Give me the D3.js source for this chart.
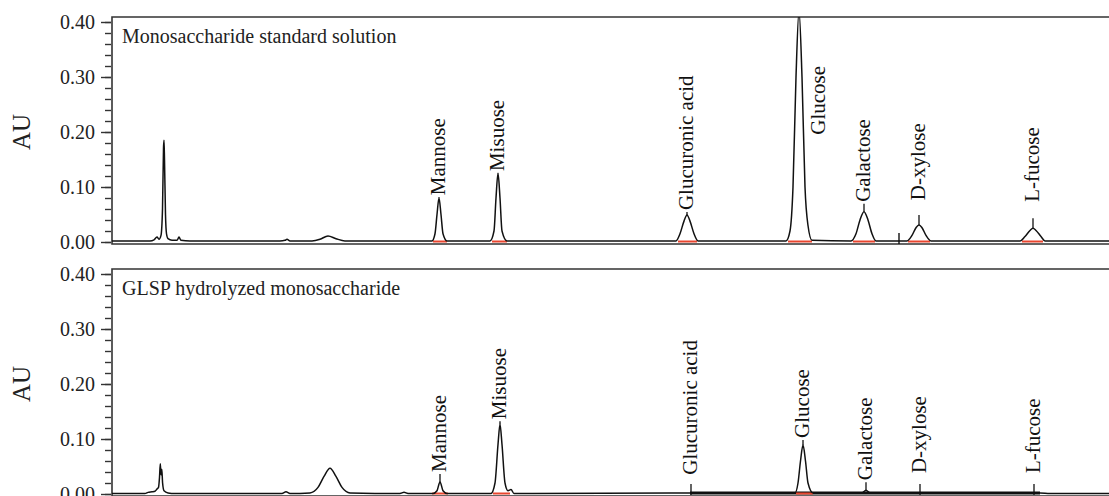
<!DOCTYPE html>
<html>
<head>
<meta charset="utf-8">
<script src="https://cdn.jsdelivr.net/npm/d3@7"></script>
<style>
  body { margin: 0; background: #fff; }
  svg { display: block; font-family: "Liberation Serif", "DejaVu Serif", serif; }
</style>
</head>
<body>
<svg id="chart" width="1109" height="496"></svg>
<script>
// chromatogram traces, [time (min), AU]
var standardTrace = [
  [0, 0.002], [1.9, 0.002], [2.1, 0.004], [2.25, 0.009], [2.35, 0.005], [2.45, 0.012],
  [2.525, 0.06], [2.575, 0.17], [2.6, 0.185], [2.625, 0.15], [2.675, 0.05], [2.725, 0.015],
  [2.8, 0.006], [3.0, 0.003], [3.25, 0.003], [3.35, 0.009], [3.45, 0.003], [3.9, 0.002],
  [8.4, 0.002], [8.65, 0.003], [8.75, 0.005], [8.9, 0.002],
  [10.0, 0.002], [10.4, 0.005], [10.8, 0.011], [11.2, 0.006], [11.65, 0.002],
  [16.0, 0.002], [16.15, 0.015], [16.25, 0.05], [16.35, 0.08], [16.45, 0.05], [16.55, 0.015], [16.75, 0.002],
  [18.9, 0.002], [19.1, 0.02], [19.2, 0.08], [19.3, 0.125], [19.4, 0.08], [19.5, 0.02], [19.75, 0.002],
  [28.2, 0.002], [28.4, 0.015], [28.6, 0.038], [28.75, 0.049], [28.9, 0.038], [29.1, 0.015], [29.3, 0.002],
  [33.7, 0.002], [33.9, 0.02], [34.05, 0.1], [34.2, 0.3], [34.35, 0.42], [34.5, 0.3], [34.65, 0.1], [34.8, 0.03], [35.0, 0.003],
  [36.95, 0.002], [37.2, 0.015], [37.4, 0.04], [37.6, 0.055], [37.8, 0.04], [38.0, 0.015], [38.2, 0.002],
  [39.75, 0.002], [40.0, 0.012], [40.2, 0.026], [40.35, 0.031], [40.5, 0.026], [40.7, 0.012], [40.95, 0.002],
  [45.4, 0.002], [45.65, 0.01], [45.9, 0.021], [46.05, 0.025], [46.2, 0.021], [46.45, 0.01], [46.65, 0.002],
  [50, 0.002]
];

var sampleTrace = [
  [0, 0.001], [1.65, 0.001], [1.8, 0.003], [2.0, 0.004], [2.15, 0.005], [2.25, 0.009],
  [2.325, 0.012], [2.375, 0.03], [2.415, 0.055], [2.45, 0.035], [2.49, 0.045], [2.53, 0.02],
  [2.6, 0.006], [2.8, 0.002], [3.15, 0.001],
  [8.5, 0.001], [8.7, 0.004], [8.9, 0.001],
  [9.9, 0.002], [10.3, 0.012], [10.6, 0.032], [10.9, 0.047], [11.2, 0.032], [11.5, 0.012], [11.9, 0.002],
  [14.4, 0.001], [14.6, 0.003], [14.8, 0.001],
  [16.05, 0.001], [16.25, 0.006], [16.4, 0.022], [16.55, 0.006], [16.75, 0.001],
  [18.95, 0.001], [19.15, 0.02], [19.3, 0.09], [19.4, 0.127], [19.5, 0.09], [19.65, 0.02],
  [19.8, 0.006], [19.95, 0.008], [20.1, 0.001],
  [28.9, 0.002],
  [34.15, 0.002], [34.3, 0.02], [34.425, 0.06], [34.55, 0.089], [34.675, 0.06], [34.8, 0.02], [35.05, 0.002],
  [37.5, 0.002], [37.7, 0.007], [37.9, 0.002],
  [46.4, 0.002], [46.9, 0.001], [50, 0.001]
];

// noisy stretch of the sample baseline [start, end]
var sampleNoise = [28.9, 46.4];

// peak labels: name, peak time, peak AU, label start AU, label time
var standardPeaks = [
  ["Mannose", 16.35, 0.08, 0.085, 16.35],
  ["Misuose", 19.3, 0.125, 0.129, 19.3],
  ["Glucuronic acid", 28.75, 0.049, 0.058, 28.75],
  ["Glucose", 34.35, 0.42, 0.195, 35.35],
  ["Galactose", 37.6, 0.055, 0.073, 37.6],
  ["D-xylose", 40.35, 0.031, 0.076, 40.35],
  ["L-fucose", 46.05, 0.025, 0.073, 46.05]
];
var samplePeaks = [
  ["Mannose", 16.4, 0.022, 0.040, 16.4],
  ["Misuose", 19.4, 0.127, 0.136, 19.4],
  ["Glucuronic acid", 28.95, 0, 0.035, 28.95],
  ["Glucose", 34.55, 0.089, 0.102, 34.55],
  ["Galactose", 37.7, 0.007, 0.025, 37.7],
  ["D-xylose", 40.4, 0, 0.038, 40.4],
  ["L-fucose", 46.1, 0, 0.038, 46.1]
];

// integration baselines (red) [start, end]
var standardBases = [[16.05, 16.75], [19.0, 19.75], [28.3, 29.25], [33.8, 35.0], [37.05, 38.15], [39.8, 40.9], [45.5, 46.55]];
var sampleBases = [[16.0, 16.8], [19.05, 19.9], [34.2, 35.05]];

// event marks without label
var standardMarks = [39.35];
var sampleMarks = [];

var yTicks = [0, 0.1, 0.2, 0.3, 0.4];
var yMinor = d3.range(0, 0.401, 0.02);

var panels = [
  {title: "Monosaccharide standard solution", trace: standardTrace, peaks: standardPeaks,
   bases: standardBases, marks: standardMarks, noise: null, y0: 242},
  {title: "GLSP hydrolyzed monosaccharide", trace: sampleTrace, peaks: samplePeaks,
   bases: sampleBases, marks: sampleMarks, noise: sampleNoise, y0: 494}
];

var svg = d3.select("#chart");
var left = 112, right = 1112;
var x = d3.scaleLinear().domain([0, 50]).range([left, right]);

panels.forEach(function(p, i) {
  var y = d3.scaleLinear().domain([0, 0.4]).range([p.y0, p.y0 - 220]);
  var g = svg.append("g");
  var top = y(0.4) - 5, bottom = y(0) + 2;

  g.append("clipPath").attr("id", "clip" + i)
    .append("rect").attr("x", left).attr("y", top).attr("width", right - left).attr("height", bottom - top);

  // frame
  g.append("path")
    .attr("d", "M" + 1109 + "," + top + "H" + left + "V" + bottom + "H" + 1109)
    .attr("fill", "none").attr("stroke", "#333").attr("stroke-width", 1.6);

  // minor and major ticks
  g.append("g").attr("transform", "translate(" + (left - 1) + ",0)")
    .call(d3.axisLeft(y).tickValues(yMinor).tickSize(6).tickFormat(""))
    .call(function(a) { a.select(".domain").remove(); a.selectAll("line").attr("stroke", "#333").attr("stroke-width", 1.4); });
  g.append("g").attr("transform", "translate(" + (left - 1) + ",0)")
    .call(d3.axisLeft(y).tickValues(yTicks).tickSize(10).tickPadding(6).tickFormat(d3.format(".2f")))
    .call(function(a) {
      a.select(".domain").remove();
      a.selectAll("line").attr("stroke", "#333").attr("stroke-width", 1.4);
      a.selectAll("text").attr("font-size", 20).attr("font-family", "Liberation Serif, serif").attr("fill", "#222");
    });

  g.append("text")
    .attr("transform", "translate(30," + y(0.2) + ") rotate(-90)")
    .attr("text-anchor", "middle").attr("font-size", 25).attr("fill", "#222").text("AU");

  g.append("text").attr("x", 122).attr("y", y(0.4) + 21)
    .attr("font-size", 20).attr("fill", "#222").text(p.title);

  var plot = g.append("g").attr("clip-path", "url(#clip" + i + ")");

  if (p.noise) {
    plot.append("line")
      .attr("x1", x(p.noise[0])).attr("x2", x(p.noise[1]))
      .attr("y1", y(0.002)).attr("y2", y(0.002))
      .attr("stroke", "#111").attr("stroke-width", 3);
  }

  plot.selectAll(".base").data(p.bases).enter().append("line")
    .attr("x1", function(d) { return x(d[0]); }).attr("x2", function(d) { return x(d[1]); })
    .attr("y1", y(0) - 0.5).attr("y2", y(0) - 0.5)
    .attr("stroke", "#e8452e").attr("stroke-width", 2);

  var line = d3.line().x(function(d) { return x(d[0]); }).y(function(d) { return y(d[1]); })
    .curve(d3.curveMonotoneX);
  plot.append("path").datum(p.trace).attr("d", line)
    .attr("fill", "none").attr("stroke", "#111").attr("stroke-width", 1.5);

  plot.selectAll(".mark").data(p.marks).enter().append("line")
    .attr("x1", function(d) { return x(d); }).attr("x2", function(d) { return x(d); })
    .attr("y1", y(0) - 9).attr("y2", y(0) + 3)
    .attr("stroke", "#111").attr("stroke-width", 1.4);

  // label lines
  g.selectAll(".lbl-line").data(p.peaks.filter(function(d) { return d[1] === d[4]; })).enter().append("line")
    .attr("x1", function(d) { return x(d[1]); }).attr("x2", function(d) { return x(d[1]); })
    .attr("y1", function(d) { return y(d[2]) + (d[2] < 0.01 ? 1 : 0); })
    .attr("y2", function(d) { return Math.max(y(d[3]) + 2, y(d[2]) - 10); })
    .attr("stroke", "#111").attr("stroke-width", 1.3);

  g.selectAll(".lbl").data(p.peaks).enter().append("text")
    .attr("transform", function(d) { return "translate(" + (x(d[4]) + 6) + "," + y(d[3]) + ") rotate(-90)"; })
    .attr("font-size", 21).attr("fill", "#111")
    .text(function(d) { return d[0]; });
});
</script>
</body>
</html>
